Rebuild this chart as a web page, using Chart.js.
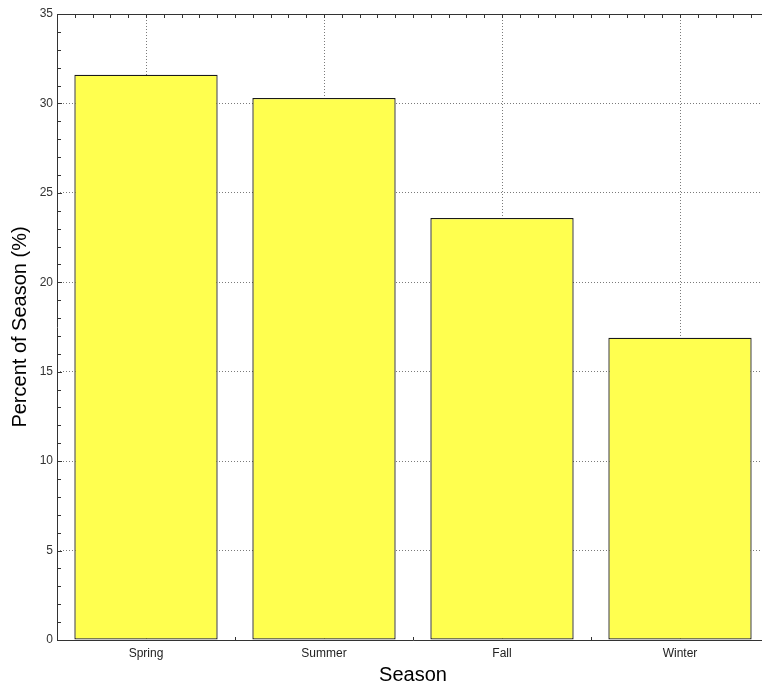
<!DOCTYPE html>
<html>
<head>
<meta charset="utf-8">
<script src="https://cdn.jsdelivr.net/npm/chart.js@4/dist/chart.umd.min.js"></script>
<style>
  html, body { margin: 0; padding: 0; background: #fff; overflow: hidden; width: 762px; height: 685px; }
  #wrap { width: 780px; height: 685px; position: relative; }
</style>
</head>
<body>
<div id="wrap"><canvas id="c"></canvas></div>
<script>
const categories = ['Spring', 'Summer', 'Fall', 'Winter'];
const percentValues = [31.6, 30.3, 23.6, 16.9];
const yMin = 0;
const yMax = 35;
const yStep = 5;
const xTitle = 'Season';
const yTitle = 'Percent of Season (%)';

const FONT = '"Liberation Sans", Arial, sans-serif';
const AXIS_COLOR = '#333333';

const framePlugin = {
  id: 'frame',
  afterDatasetsDraw(chart) {
    const { ctx, chartArea: a, scales } = chart;
    const x = scales.x, y = scales.y;
    ctx.save();
    ctx.strokeStyle = AXIS_COLOR;
    ctx.lineWidth = 1;
    ctx.beginPath();
    ctx.moveTo(a.left + 0.5, a.top + 0.5);
    ctx.lineTo(a.left + 0.5, a.bottom + 0.5);
    ctx.lineTo(a.right, a.bottom + 0.5);
    ctx.moveTo(a.left, a.top + 0.5);
    ctx.lineTo(a.right, a.top + 0.5);
    ctx.stroke();
    ctx.beginPath();
    for (let v = yMin; v <= yMax; v += 1) {
      const py = Math.round(y.getPixelForValue(v)) + 0.5;
      const len = (v % yStep === 0) ? 5 : 4;
      ctx.moveTo(a.left, py);
      ctx.lineTo(a.left + len, py);
    }
    const n = categories.length;
    for (let i = 0; i <= n * 10; i++) {
      const px = Math.round(x.getPixelForValue(-0.5 + i / 10)) + 0.5;
      ctx.moveTo(px, a.top);
      ctx.lineTo(px, a.top + 4);
    }
    for (let i = 1; i < n; i++) {
      const px = Math.round(x.getPixelForValue(i - 0.5)) + 0.5;
      ctx.moveTo(px, a.bottom);
      ctx.lineTo(px, a.bottom - 3);
    }
    ctx.stroke();
    ctx.restore();
  }
};

new Chart(document.getElementById('c'), {
  type: 'bar',
  data: {
    labels: categories,
    datasets: [{
      data: percentValues,
      backgroundColor: '#ffff4f',
      borderColor: '#1a1a1a',
      borderWidth: 1.3,
      borderSkipped: false,
      categoryPercentage: 1.0,
      barPercentage: 0.805
    }]
  },
  options: {
    responsive: true,
    maintainAspectRatio: false,
    animation: false,
    layout: { padding: { top: 14, right: 11, left: 0, bottom: 0 } },
    plugins: { legend: { display: false }, tooltip: { enabled: false } },
    scales: {
      x: {
        offset: true,
        grid: {
          offset: false,
          drawTicks: false,
          color: '#7a7a7a',
          lineWidth: 1
        },
        border: { display: false, dash: [1, 2] },
        ticks: {
          padding: 6,
          color: '#222',
          font: { family: FONT, size: 12 }
        },
        title: {
          display: true,
          text: xTitle,
          color: '#000',
          font: { family: FONT, size: 20, lineHeight: 1.0 },
          padding: { top: 0, bottom: 0 }
        },
        afterFit(scale) { scale.height = 45; }
      },
      y: {
        min: yMin,
        max: yMax,
        grid: {
          drawTicks: false,
          color: (c) => (c.tick && (c.tick.value === yMin || c.tick.value === yMax)) ? 'rgba(0,0,0,0)' : '#7a7a7a',
          lineWidth: 1
        },
        border: { display: false, dash: [1, 2] },
        ticks: {
          stepSize: yStep,
          padding: 4,
          color: '#333',
          font: { family: FONT, size: 12 }
        },
        title: {
          display: true,
          text: yTitle,
          color: '#000',
          font: { family: FONT, size: 20, lineHeight: 1.0 },
          padding: { top: 10, bottom: 0 }
        },
        afterFit(scale) { scale.width = 57; }
      }
    }
  },
  plugins: [framePlugin]
});
</script>
</body>
</html>
